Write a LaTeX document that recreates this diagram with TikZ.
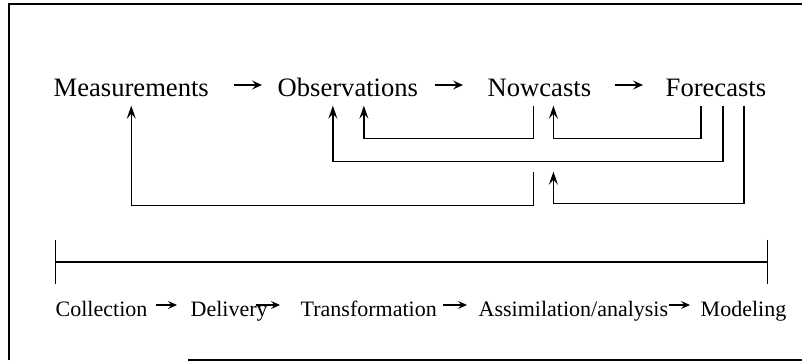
\documentclass[tikz,border=0pt]{standalone}
\usepackage{fontspec}
\setmainfont{Liberation Serif}
\usetikzlibrary{arrows.meta}
\newcommand{\rowfont}{\fontsize{26.6}{30}\selectfont}
\newcommand{\stagefont}{\fontsize{22}{26}\selectfont}

\begin{document}
\begin{tikzpicture}[x=1pt, y=1pt, line width=1.4pt,
    word/.style = {font=\rowfont, inner xsep=0pt, inner ysep=8pt, text height=24pt, text depth=0pt, anchor=base west},
    stage/.style = {font=\stagefont, inner sep=0pt, text height=24pt, text depth=0pt, anchor=base west},
    flow/.style = {-{Stealth[length=10pt, width=9pt, inset=4pt]}},
    fb/.style = {-{Stealth[length=13pt, width=9pt, inset=5pt]}},
    small/.style = {-{Stealth[length=9pt, width=8pt, inset=3.5pt]}}]
  \useasboundingbox (0,0) rectangle (802,361);

  % frame
  \draw (9,1) -- (9,357) -- (802,357);
  \draw (188,1) -- (802,1);

  % products
  \node[word] (meas) at (53,264) {Measurements};
  \node[word] (obs)  at (277,264) {Observations};
  \node[word] (now)  at (487,264) {Nowcasts};
  \node[word] (fore) at (665,264) {Forecasts};

  \draw[flow, shorten <=24pt, shorten >=15pt] (meas) -- (obs);
  \draw[flow, shorten <=16pt, shorten >=24pt] (obs) -- (now);
  \draw[flow, shorten <=23pt, shorten >=22pt] (now) -- (fore);

  % feedback
  \draw[fb] ([xshift=-6pt]now.south) -- ++(0,-33) -| ([xshift=16pt]obs.south);
  \draw[fb] ([xshift=-15pt]fore.south) -- ++(0,-33) -| ([xshift=14pt]now.south);
  \draw[fb] ([xshift=7pt]fore.south) -- ++(0,-56) -| ([xshift=-15pt]obs.south);
  \draw[fb, shorten >=66pt] ([xshift=28pt]fore.south) -- ++(0,-98) -| ([xshift=14pt]now.south);
  \draw[fb, shorten <=66pt] ([xshift=-6pt]now.south) -- ++(0,-100) -| (meas.south);

  % time line
  \coordinate (t0) at (55,99);
  \coordinate (t1) at (768,99);
  \draw[{Bar[width=44pt]}-{Bar[width=44pt]}] (t0) -- (t1);

  % stages
  \node[stage] (coll)  at (55,44) {Collection};
  \node[stage] (deliv) at (190,44) {Delivery};
  \node[stage] (trans) at (300,44) {Transformation};
  \node[stage] (assim) at (478,44) {Assimilation/analysis};
  \node[stage] (model) at (700,44) {Modeling};

  \draw[small, shorten <=8pt, shorten >=13pt] (coll) -- (deliv);
  \draw[small, shorten <=-12pt, shorten >=20pt] (deliv) -- (trans);
  \draw[small, shorten <=6pt, shorten >=11pt] (trans) -- (assim);
  \draw[small, shorten <=0pt, shorten >=10pt] (assim) -- (model);
\end{tikzpicture}
\end{document}
